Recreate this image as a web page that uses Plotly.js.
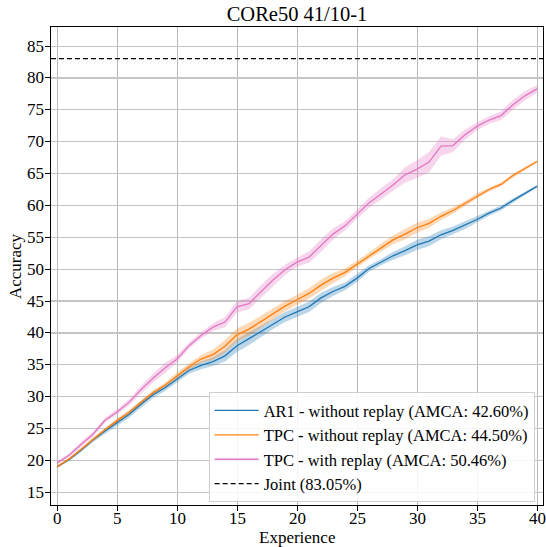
<!DOCTYPE html>
<html>
<head>
<meta charset="utf-8">
<script src="https://cdn.plot.ly/plotly-3.0.1.min.js"></script>
<style>html,body{margin:0;padding:0;background:#fff;}#chart{width:546px;height:547px;}</style>
</head>
<body>
<div id="chart"></div>
<script>
const experiences = Array.from({length: 41}, (_, i) => i);

const ar1Mean = [19.0,20.1,21.6,23.2,24.6,25.9,27.2,28.8,30.3,31.4,32.8,34.1,34.9,35.5,36.4,38.0,39.1,40.2,41.4,42.5,43.3,44.1,45.5,46.5,47.3,48.6,50.1,51.1,52.1,52.9,53.8,54.4,55.4,56.1,56.9,57.8,58.8,59.6,60.8,61.9,63.0];
const ar1Std  = [0.2,0.2,0.3,0.3,0.4,0.5,0.5,0.5,0.5,0.5,0.5,0.5,0.6,0.7,0.9,1.0,1.0,0.9,0.8,0.8,0.8,0.8,0.8,0.7,0.6,0.6,0.5,0.5,0.6,0.7,0.8,0.8,0.7,0.6,0.6,0.5,0.4,0.4,0.3,0.3,0.2];

const tpcNoMean = [19.0,20.2,21.7,23.3,24.8,26.2,27.5,29.1,30.6,31.8,33.3,34.7,35.9,36.6,37.9,39.7,40.6,41.8,43.0,44.2,45.2,46.2,47.5,48.6,49.5,50.8,52.1,53.4,54.6,55.5,56.5,57.2,58.3,59.2,60.3,61.5,62.5,63.3,64.7,65.8,66.9];
const tpcNoStd  = [0.2,0.2,0.2,0.3,0.3,0.4,0.4,0.4,0.4,0.4,0.5,0.5,0.6,0.8,1.0,1.0,1.0,0.9,0.9,0.8,0.8,0.8,0.9,0.8,0.6,0.5,0.5,0.6,0.7,0.8,0.8,0.7,0.6,0.5,0.4,0.4,0.3,0.3,0.3,0.3,0.2];

const tpcReMean = [19.6,20.8,22.5,24.1,26.3,27.6,29.1,31.1,32.9,34.5,35.9,38.0,39.6,40.9,41.7,44.1,44.6,46.5,48.3,49.9,51.1,51.9,53.7,55.5,56.8,58.6,60.4,61.8,63.2,64.8,65.7,66.8,69.3,69.4,71.1,72.4,73.4,74.1,75.8,77.2,78.3];
const tpcReStd  = [0.3,0.3,0.4,0.4,0.4,0.4,0.5,0.6,0.7,0.8,0.6,0.5,0.5,0.6,0.8,0.9,0.9,1.0,1.0,0.8,0.7,0.9,1.0,0.9,0.7,0.7,0.8,0.9,0.9,1.2,1.4,1.6,1.5,1.0,0.8,0.6,0.6,0.7,0.8,0.7,0.6];

const jointAcc = 83.05;

const seriesNames = [
  'AR1 - without replay (AMCA: 42.60%)',
  'TPC - without replay (AMCA: 44.50%)',
  'TPC - with replay (AMCA: 50.46%)'
];
const jointName = 'Joint (83.05%)';
const xTitle = 'Experience';
const yTitle = 'Accuracy';
const xTicks = [0,5,10,15,20,25,30,35,40];
const yTicks = [15,20,25,30,35,40,45,50,55,60,65,70,75,80,85];
const xRange = [-0.5, 40.5];
const yRange = [13, 88];

const series = [
  {mean: ar1Mean, std: ar1Std, color: '#1f77b4', fill: 'rgba(31,119,180,0.3)'},
  {mean: tpcNoMean, std: tpcNoStd, color: '#ff7f0e', fill: 'rgba(255,127,14,0.3)'},
  {mean: tpcReMean, std: tpcReStd, color: '#e377c2', fill: 'rgba(227,119,194,0.3)'}
];

const traces = [];
series.forEach((s, k) => {
  const upper = s.mean.map((m, i) => m + s.std[i]);
  const lower = s.mean.map((m, i) => m - s.std[i]);
  traces.push({
    x: experiences.concat(experiences.slice().reverse()),
    y: upper.concat(lower.slice().reverse()),
    type: 'scatter', mode: 'lines', fill: 'toself',
    fillcolor: s.fill, line: {width: 0, color: 'rgba(0,0,0,0)'},
    hoverinfo: 'skip', showlegend: false
  });
});
series.forEach((s, k) => {
  traces.push({
    x: experiences, y: s.mean, type: 'scatter', mode: 'lines',
    name: seriesNames[k], line: {color: s.color, width: 1.3}
  });
});

const FONT = 'Liberation Serif, Times New Roman, serif';
const tickFont = {family: FONT, size: 17, color: '#000'};

const annotations = [];
xTicks.forEach(t => annotations.push({
  x: t, xref: 'x', y: 0, yref: 'paper', yanchor: 'top', yshift: -3,
  text: String(t), showarrow: false, font: tickFont, borderpad: 0
}));
yTicks.forEach(t => annotations.push({
  x: 0, xref: 'paper', y: t, yref: 'y', xanchor: 'right', xshift: -6,
  text: String(t), showarrow: false, font: tickFont, borderpad: 0
}));
annotations.push({
  x: 0.5, xref: 'paper', y: 0, yref: 'paper', yanchor: 'top', yshift: -22,
  text: xTitle, showarrow: false, font: tickFont, borderpad: 0
});
annotations.push({
  x: 0, xref: 'paper', y: 0.5, yref: 'paper', xanchor: 'center', xshift: -36,
  text: yTitle, textangle: -90, showarrow: false, font: tickFont, borderpad: 0
});

const layout = {
  width: 546, height: 547,
  margin: {l: 51, r: 3, t: 27, b: 42},
  paper_bgcolor: '#fff', plot_bgcolor: '#fff',
  font: {family: FONT, size: 17, color: '#000'},
  title: {text: 'CORe50 41/10-1', font: {family: FONT, size: 20.5, color: '#000'}, x: 0.5, xref: 'paper', xanchor: 'center', y: 0.975, yanchor: 'middle'},
  xaxis: {
    range: xRange, tickvals: xTicks, showticklabels: false,
    showgrid: true, gridcolor: '#b8b8b8', gridwidth: 1, zeroline: false,
    showline: true, linecolor: '#000', linewidth: 1.2, mirror: true,
    ticks: 'outside', ticklen: 5, tickcolor: '#000', tickwidth: 1
  },
  yaxis: {
    range: yRange, tickvals: yTicks, showticklabels: false,
    showgrid: true, gridcolor: '#c4c4c4', gridwidth: 1.2, zeroline: false,
    showline: true, linecolor: '#000', linewidth: 1.2, mirror: true,
    ticks: 'outside', ticklen: 5, tickcolor: '#000', tickwidth: 1
  },
  annotations: annotations,
  shapes: [{
    type: 'line', xref: 'paper', x0: 0, x1: 1, yref: 'y', y0: jointAcc, y1: jointAcc,
    line: {color: '#000', width: 1.2, dash: '5px,3px'},
    showlegend: true, name: jointName, layer: 'above'
  }],
  legend: {
    x: 0.983, xanchor: 'right', y: 0.006, yanchor: 'bottom',
    bgcolor: 'rgba(255,255,255,0.85)', bordercolor: '#d0d0d0', borderwidth: 1,
    font: {family: FONT, size: 16.5, color: '#000'},
    itemwidth: 44,
    traceorder: 'normal'
  },
  showlegend: true
};

Plotly.newPlot('chart', traces, layout, {displayModeBar: false, staticPlot: true});
</script>
</body>
</html>
